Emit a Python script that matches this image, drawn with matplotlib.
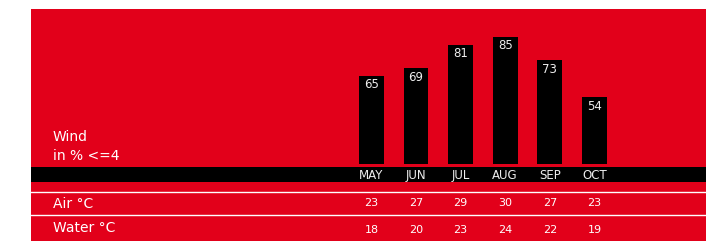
import matplotlib.pyplot as plt
from matplotlib.patches import Rectangle
from matplotlib.transforms import blended_transform_factory

months = ["MAY", "JUN", "JUL", "AUG", "SEP", "OCT"]
wind = [65, 69, 81, 85, 73, 54]
air = [23, 27, 29, 30, 27, 23]
water = [18, 20, 23, 24, 22, 19]

RED = "#e2001a"
W, H = 706, 241

plt.rcParams['font.family'] = ['DejaVu Sans']
fig = plt.figure(figsize=(W / 100, H / 100), dpi=100)


def fy(px):
    # pixel row from the top -> figure fraction
    return 1 - px / H


# red panel, black month band, white row separators
fig.patches.append(Rectangle((31 / W, 0), 1 - 31 / W, fy(9), transform=fig.transFigure,
                             facecolor=RED, edgecolor="none", zorder=0))
fig.patches.append(Rectangle((31 / W, fy(182)), 1 - 31 / W, 15 / H, transform=fig.transFigure,
                             facecolor="black", edgecolor="none", zorder=1))
for row in (192.3, 215):
    fig.add_artist(plt.Line2D([31 / W, 1], [fy(row), fy(row)], transform=fig.transFigure,
                              color="white", lw=1.0, zorder=2))

# bar axes: value 20 sits on the bar baseline
ax = fig.add_axes([349.1 / W, fy(163.7), 267.6 / W, 156 / H])
ax.set_zorder(3)
ax.set_facecolor("none")
x = range(len(months))
bars = ax.bar(x, wind, width=0.56, color="black", zorder=3)
ax.set_xlim(-0.5, len(months) - 0.5)
ax.set_ylim(20, 100)
ax.axis("off")
for b, v in zip(bars, wind):
    ax.annotate(str(v), (b.get_x() + b.get_width() / 2, v), xytext=(0, -6.5),
                textcoords="offset points", ha="center", va="center",
                color="#eeeeee", fontsize=8.5, zorder=4)

# table rows share the bar x-scale
tr = blended_transform_factory(ax.transData, fig.transFigure)
for i, m in enumerate(months):
    fig.text(i, fy(179.3), m, transform=tr, ha="center", va="baseline",
             color="#eeeeee", fontsize=8.5, zorder=5)
    fig.text(i, fy(206.3), str(air[i]), transform=tr, ha="center", va="baseline",
             color="white", fontsize=8, zorder=5)
    fig.text(i, fy(233), str(water[i]), transform=tr, ha="center", va="baseline",
             color="white", fontsize=8, zorder=5)

left = 53 / W
fig.text(left, fy(140.7), "Wind", ha="left", va="baseline", color="white", fontsize=10)
fig.text(left, fy(159.5), "in % <=4", ha="left", va="baseline", color="white", fontsize=10)
fig.text(left, fy(207.7), "Air °C", ha="left", va="baseline", color="white", fontsize=10)
fig.text(left, fy(232.3), "Water °C", ha="left", va="baseline", color="white", fontsize=10)

fig.savefig("out.png", dpi=100, facecolor="white")
